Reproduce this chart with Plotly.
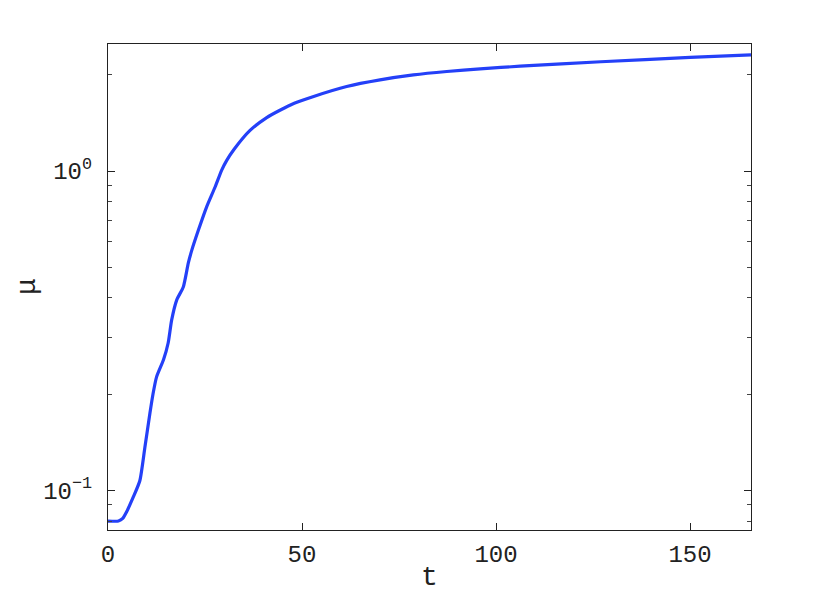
import plotly.graph_objects as go

t = [0, 2.7, 3.8, 4.8, 6.5, 8.2, 9.5, 10.8, 11.6, 12.5, 14.3, 15.5, 16.4, 17.7,
     19.4, 20.7, 21.6, 23.3, 25.4, 27.6, 29.3, 30.6, 32.5, 36.6, 40.9, 44.3,
     48.0, 52.8, 61.5, 70.1, 78.7, 87.3, 95.9, 106.2, 127, 150, 165.7]
mu = [0.080, 0.080, 0.0815, 0.0855, 0.095, 0.107, 0.136, 0.174, 0.200, 0.226,
      0.256, 0.289, 0.341, 0.394, 0.433, 0.515, 0.565, 0.653, 0.771, 0.891,
      1.007, 1.08, 1.17, 1.34, 1.47, 1.55, 1.63, 1.71, 1.84, 1.93, 2.00, 2.05,
      2.09, 2.13, 2.20, 2.27, 2.31]

x_ticks = [0, 50, 100, 150]
y_ticks = [0.1, 1]
y_ticktext = ["10<sup>\u22121</sup>", "10<sup>0</sup>"]
y_minor = [0.08, 0.09, 0.2, 0.3, 0.4, 0.5, 0.6, 0.7, 0.8, 0.9, 2]

FONT = "Liberation Mono"

fig = go.Figure()
fig.add_trace(go.Scatter(x=t, y=mu, mode="lines",
                         line=dict(color="#2440f8", width=3.2, shape="spline", smoothing=0.6),
                         showlegend=False, hoverinfo="skip"))

axis_common = dict(showgrid=False, zeroline=False, showline=True, linecolor="#222",
                   linewidth=1.2, mirror="ticks", ticks="inside", tickcolor="#222",
                   tickwidth=1, tickfont=dict(family=FONT, size=24, color="#222"))

fig.update_xaxes(range=[0, 165.7], tickvals=x_ticks, ticktext=[str(v) for v in x_ticks],
                 ticklen=7, ticklabelstandoff=2, **axis_common)
fig.update_yaxes(type="log", range=[-1.125, 0.398], tickvals=y_ticks, ticktext=y_ticktext,
                 ticklen=7, ticklabelstandoff=10,
                 minor=dict(tickvals=y_minor, ticks="inside", ticklen=4, tickcolor="#444",
                            tickwidth=1),
                 **axis_common)

fig.add_annotation(text="t", xref="paper", yref="paper", x=0.5, y=0, yshift=-47,
                   showarrow=False, font=dict(family=FONT, size=28, color="#222"),
                   xanchor="center", yanchor="middle")
fig.add_annotation(text="\u03bc", xref="paper", yref="paper", x=0, y=0.5, xshift=-81,
                   showarrow=False, textangle=-90,
                   font=dict(family=FONT, size=28, color="#222"),
                   xanchor="center", yanchor="middle")

fig.update_layout(width=822, height=590, plot_bgcolor="white", paper_bgcolor="white",
                  margin=dict(l=100, r=79, t=36, b=68))

fig.write_html("out.html")
